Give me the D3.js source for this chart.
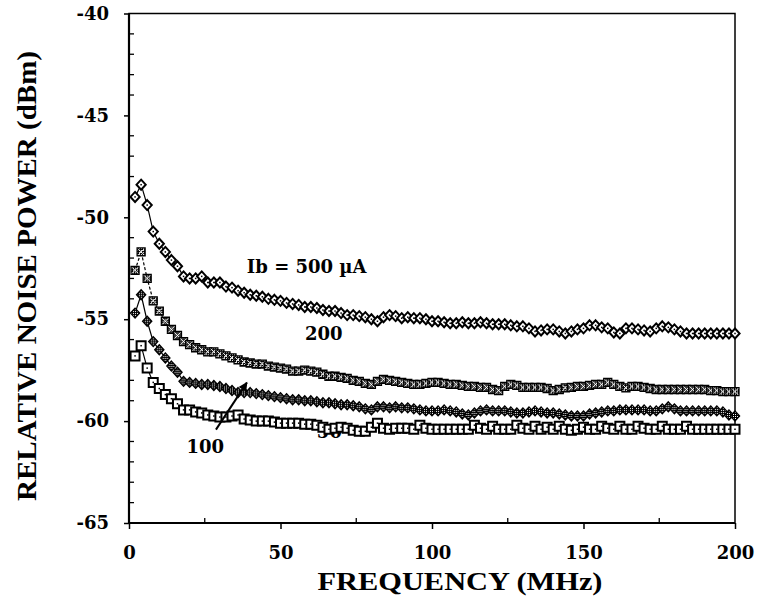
<!DOCTYPE html>
<html>
<head>
<meta charset="utf-8">
<script src="https://cdn.jsdelivr.net/npm/d3@7"></script>
<style>
	body { margin: 0; background: #fff; }
	text { fill: #000; }
</style>
</head>
<body>
<div id="chart"></div>
<script>
// frequency grid (MHz) and noise power (dBm), one array per bias current
var freqMHz = [2,4,6,8,10,12,14,16,18,20,22,24,26,28,30,32,34,36,38,40,
	42,44,46,48,50,52,54,56,58,60,62,64,66,68,70,72,74,76,78,80,
	82,84,86,88,90,92,94,96,98,100,102,104,106,108,110,112,114,116,118,120,
	122,124,126,128,130,132,134,136,138,140,142,144,146,148,150,152,154,156,158,160,
	162,164,166,168,170,172,174,176,178,180,182,184,186,188,190,192,194,196,198,200];

var noise500 = [-49.0,-48.4,-49.4,-50.7,-51.3,-51.7,-52.1,-52.4,-52.9,-53.0,
	-53.0,-52.9,-53.2,-53.2,-53.2,-53.4,-53.45,-53.6,-53.7,-53.8,
	-53.85,-53.9,-54.0,-54.05,-54.1,-54.2,-54.25,-54.3,-54.4,-54.4,
	-54.45,-54.55,-54.6,-54.6,-54.7,-54.8,-54.8,-54.85,-54.9,-55.0,
	-55.1,-54.9,-54.8,-54.85,-54.95,-54.9,-54.95,-54.95,-55.0,-55.1,
	-55.1,-55.15,-55.2,-55.2,-55.15,-55.2,-55.2,-55.15,-55.2,-55.25,
	-55.25,-55.25,-55.3,-55.35,-55.35,-55.45,-55.6,-55.55,-55.5,-55.5,
	-55.6,-55.7,-55.6,-55.5,-55.45,-55.3,-55.3,-55.4,-55.45,-55.65,
	-55.7,-55.45,-55.45,-55.5,-55.55,-55.6,-55.45,-55.35,-55.4,-55.5,
	-55.6,-55.7,-55.7,-55.7,-55.7,-55.7,-55.7,-55.7,-55.7,-55.7];

var noise200 = [-52.6,-51.7,-53.0,-54.1,-54.6,-55.1,-55.5,-55.8,-56.1,-56.25,
	-56.4,-56.5,-56.6,-56.6,-56.7,-56.8,-56.9,-57.0,-57.1,-57.15,
	-57.2,-57.2,-57.3,-57.35,-57.4,-57.45,-57.55,-57.55,-57.5,-57.55,
	-57.6,-57.7,-57.8,-57.8,-57.85,-57.9,-58.0,-58.05,-58.15,-58.2,
	-58.05,-57.95,-58.0,-58.05,-58.1,-58.15,-58.2,-58.2,-58.15,-58.1,
	-58.1,-58.15,-58.2,-58.2,-58.25,-58.3,-58.3,-58.35,-58.35,-58.45,
	-58.5,-58.3,-58.2,-58.25,-58.35,-58.35,-58.35,-58.35,-58.4,-58.5,
	-58.45,-58.37,-58.35,-58.3,-58.3,-58.25,-58.2,-58.2,-58.1,-58.2,
	-58.3,-58.37,-58.3,-58.3,-58.35,-58.4,-58.45,-58.45,-58.45,-58.45,
	-58.45,-58.45,-58.45,-58.45,-58.45,-58.5,-58.5,-58.55,-58.55,-58.55];

var noise100 = [-54.7,-53.8,-55.1,-56.1,-56.5,-56.9,-57.3,-57.6,-58.05,-58.1,
	-58.15,-58.2,-58.2,-58.25,-58.3,-58.4,-58.5,-58.6,-58.6,-58.6,
	-58.65,-58.7,-58.75,-58.8,-58.85,-58.9,-58.95,-58.95,-59.0,-59.0,
	-59.05,-59.1,-59.1,-59.15,-59.2,-59.2,-59.25,-59.3,-59.4,-59.45,
	-59.3,-59.3,-59.35,-59.3,-59.35,-59.35,-59.4,-59.45,-59.5,-59.5,
	-59.5,-59.45,-59.5,-59.55,-59.65,-59.7,-59.6,-59.5,-59.45,-59.5,
	-59.5,-59.5,-59.55,-59.6,-59.6,-59.55,-59.5,-59.55,-59.6,-59.6,
	-59.65,-59.7,-59.75,-59.75,-59.75,-59.65,-59.6,-59.55,-59.5,-59.5,
	-59.45,-59.45,-59.45,-59.45,-59.45,-59.5,-59.5,-59.4,-59.3,-59.4,
	-59.5,-59.5,-59.5,-59.5,-59.5,-59.5,-59.5,-59.55,-59.7,-59.75];

var noise50 = [-56.8,-56.3,-57.4,-58.1,-58.4,-58.7,-58.9,-59.15,-59.45,-59.45,
	-59.55,-59.6,-59.7,-59.75,-59.8,-59.8,-59.75,-59.7,-59.9,-59.95,
	-60.0,-60.0,-60.0,-60.05,-60.1,-60.1,-60.1,-60.1,-60.15,-60.15,
	-60.2,-60.3,-60.4,-60.35,-60.3,-60.35,-60.45,-60.5,-60.5,-60.3,
	-60.1,-60.35,-60.4,-60.35,-60.35,-60.35,-60.4,-60.2,-60.35,-60.4,
	-60.4,-60.4,-60.4,-60.4,-60.4,-60.4,-60.2,-60.35,-60.4,-60.25,
	-60.4,-60.4,-60.4,-60.2,-60.35,-60.4,-60.25,-60.4,-60.3,-60.4,
	-60.25,-60.4,-60.45,-60.4,-60.3,-60.4,-60.4,-60.25,-60.35,-60.4,
	-60.25,-60.4,-60.4,-60.25,-60.35,-60.4,-60.4,-60.25,-60.4,-60.4,
	-60.4,-60.25,-60.4,-60.4,-60.4,-60.4,-60.4,-60.4,-60.4,-60.4];

var xTicks = [0, 50, 100, 150, 200];
var xMinorTicks = [25, 75, 125, 175];
var yTicks = [-65, -60, -55, -50, -45, -40];
var yMinorTicks = [-64,-63,-62,-61,-59,-58,-57,-56,-54,-53,-52,-51,-49,-48,-47,-46,-44,-43,-42,-41];

var curveLabels = [
	{text: "Ib = 500  \u00b5A", f: 38.9, v: -52.72},
	{text: "200", f: 58.1, v: -56.0},
	{text: "100", f: 19.0, v: -61.55}
];

/******************************draw chart***************************************/
var W = 766, H = 607;
var margin = {top: 13.5, right: 31, bottom: 84, left: 129};
var width = W - margin.left - margin.right,
	height = H - margin.top - margin.bottom;

var svg = d3.select("#chart").append("svg")
	.attr("width", W)
	.attr("height", H);

var defs = svg.append("defs");

// halftone fill used by the 200 and 100 markers
var pat = defs.append("pattern")
	.attr("id", "chk")
	.attr("width", 2).attr("height", 2)
	.attr("patternUnits", "userSpaceOnUse");
pat.append("rect").attr("width", 2).attr("height", 2).attr("fill", "#000");
pat.append("rect").attr("width", 1).attr("height", 1).attr("fill", "#fff");

defs.append("marker")
	.attr("id", "arrow")
	.attr("viewBox", "0 0 10 10")
	.attr("refX", 9).attr("refY", 5)
	.attr("markerWidth", 12).attr("markerHeight", 9)
	.attr("markerUnits", "userSpaceOnUse")
	.attr("orient", "auto")
	.append("path")
	.attr("d", "M0,0L10,5L0,10Z")
	.attr("fill", "#000");

var g = svg.append("g").attr("transform", "translate(" + margin.left + "," + margin.top + ")");

var x = d3.scaleLinear().domain([0, 200]).range([0, width]);
var y = d3.scaleLinear().domain([-65, -40]).range([height, 0]);

var tickFont = "bold 18px 'DejaVu Serif', serif";

var yAxis = g.append("g")
	.call(d3.axisLeft(y).tickValues(yTicks).tickSize(5).tickPadding(15)
		.tickFormat(function(d) { return d; }));
yAxis.select(".domain").remove();
yAxis.selectAll("line").attr("stroke-width", 1.5);
yAxis.selectAll("text").style("font", tickFont);

var xAxis = g.append("g")
	.attr("transform", "translate(0," + height + ")")
	.call(d3.axisBottom(x).tickValues(xTicks).tickSize(6).tickPadding(17));
xAxis.select(".domain").remove();
xAxis.selectAll("line").attr("stroke-width", 1.5);
xAxis.selectAll("text").style("font", tickFont);

// minor ticks point into the plot
g.selectAll(".yminor")
	.data(yMinorTicks)
	.enter().append("line")
	.attr("class", "yminor")
	.attr("x1", 0).attr("x2", 5)
	.attr("y1", function(d) { return y(d); })
	.attr("y2", function(d) { return y(d); })
	.attr("stroke", "#000").attr("stroke-width", 1.3);

g.selectAll(".xminor")
	.data(xMinorTicks)
	.enter().append("line")
	.attr("class", "xminor")
	.attr("x1", function(d) { return x(d); })
	.attr("x2", function(d) { return x(d); })
	.attr("y1", height).attr("y2", height - 5)
	.attr("stroke", "#000").attr("stroke-width", 1.3);

// frame
g.append("rect")
	.attr("width", width).attr("height", height)
	.attr("fill", "none").attr("stroke", "#000").attr("stroke-width", 1.5);
g.append("line").attr("x1", 0).attr("x2", 0).attr("y1", 0).attr("y2", height)
	.attr("stroke", "#000").attr("stroke-width", 2.2);
g.append("line").attr("x1", 0).attr("x2", width).attr("y1", height).attr("y2", height)
	.attr("stroke", "#000").attr("stroke-width", 2.2);

// axis titles
g.append("text")
	.attr("x", 331).attr("y", 576)
	.attr("text-anchor", "middle")
	.attr("textLength", 285).attr("lengthAdjust", "spacingAndGlyphs")
	.style("font", "bold 25px 'Liberation Serif', 'Times New Roman', serif")
	.text("FREQUENCY (MHz)");

g.append("text")
	.attr("transform", "translate(-93," + (276 - margin.top) + ") rotate(-90)")
	.attr("text-anchor", "middle")
	.attr("textLength", 450).attr("lengthAdjust", "spacingAndGlyphs")
	.style("font", "bold 27px 'Liberation Serif', 'Times New Roman', serif")
	.text("RELATIVE NOISE POWER (dBm)");

// "50" sits under the square markers
g.append("text")
	.attr("x", x(62)).attr("y", y(-60.85))
	.style("font", tickFont)
	.text("50");

var series = [
	{values: noise50, dash: null, shape: "square"},
	{values: noise100, dash: null, shape: "diamondHatch"},
	{values: noise200, dash: "3,2", shape: "star"},
	{values: noise500, dash: null, shape: "diamond"}
];

var shapes = {
	square: "M-4.5,-4.5h9v9h-9z",
	diamond: "M0,-5L4.6,0L0,5L-4.6,0Z",
	diamondHatch: "M0,-5L4.6,0L0,5L-4.6,0Z",
	star: "M-4,-4h8v8h-8z"
};

var line = d3.line()
	.x(function(d) { return x(d[0]); })
	.y(function(d) { return y(d[1]); });

series.forEach(function(s) {
	var pts = freqMHz.map(function(f, i) { return [f, s.values[i]]; });
	var open = s.shape == "square" || s.shape == "diamond";

	g.append("path")
		.datum(pts)
		.attr("fill", "none")
		.attr("stroke", "#000")
		.attr("stroke-width", 1.2)
		.attr("stroke-dasharray", s.dash)
		.attr("d", line);

	var m = g.selectAll(".m-" + s.shape)
		.data(pts)
		.enter().append("g")
		.attr("class", "m-" + s.shape)
		.attr("transform", function(d) { return "translate(" + x(d[0]) + "," + y(d[1]) + ")"; });

	m.append("path")
		.attr("d", shapes[s.shape])
		.attr("fill", open ? "#fff" : "url(#chk)")
		.attr("stroke", "#000")
		.attr("stroke-width", open ? 2 : 1.3);

	if (s.shape == "star") {
		m.append("path")
			.attr("d", "M-3,-3L3,3M3,-3L-3,3")
			.attr("stroke", "#fff")
			.attr("stroke-width", 0.9);
	}

	if (open) {
		m.append("rect")
			.attr("x", -0.75).attr("y", -0.75)
			.attr("width", 1.5).attr("height", 1.5)
			.attr("fill", "#000");
	}
});

// curve labels
g.selectAll(".clabel")
	.data(curveLabels)
	.enter().append("text")
	.attr("class", "clabel")
	.attr("x", function(d) { return x(d.f); })
	.attr("y", function(d) { return y(d.v); })
	.style("font", tickFont)
	.text(function(d) { return d.text; });

// arrow from "100" to its curve
g.append("line")
	.attr("x1", x(28.7)).attr("y1", y(-60.42))
	.attr("x2", x(38.9)).attr("y2", y(-58.11))
	.attr("stroke", "#000").attr("stroke-width", 2)
	.attr("marker-end", "url(#arrow)");
</script>
</body>
</html>
